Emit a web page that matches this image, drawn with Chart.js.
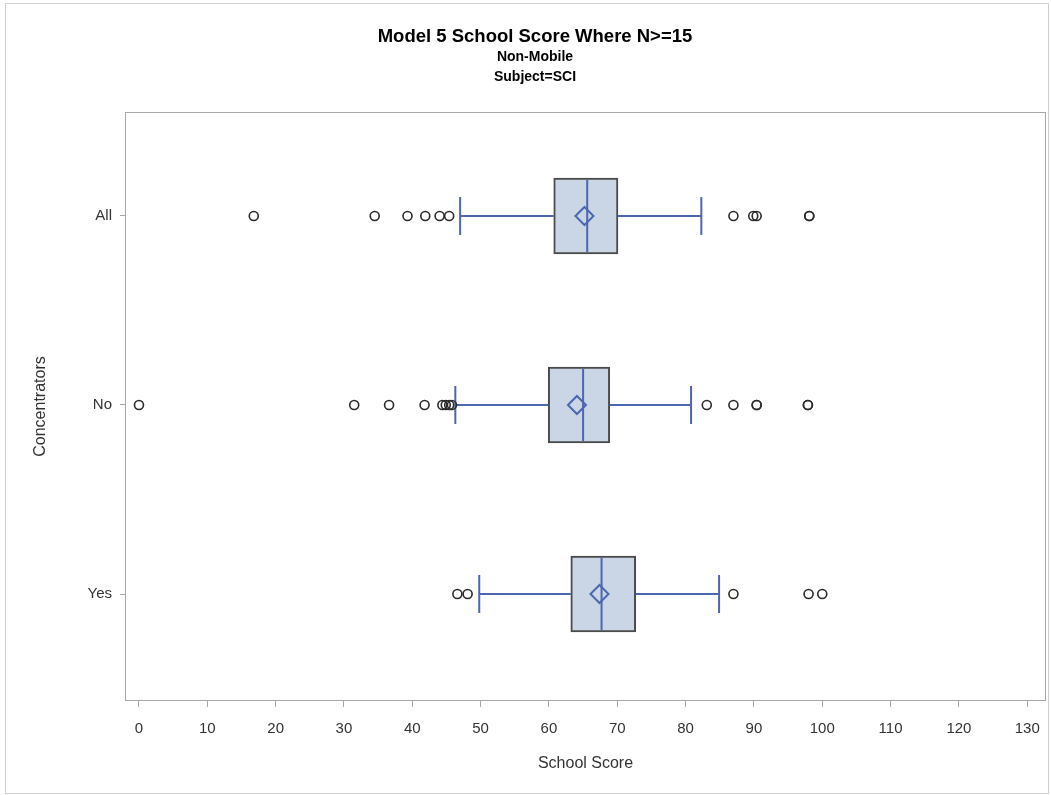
<!DOCTYPE html>
<html>
<head>
<meta charset="utf-8">
<script src="https://cdn.jsdelivr.net/npm/chart.js@4.4.1/dist/chart.umd.min.js"></script>
<style>
  html, body { margin: 0; padding: 0; background: #fff; overflow: hidden; }
  #frame { position: absolute; left: 5px; top: 3px; width: 1042px; height: 789px; border: 1px solid #cfcfcf; }
  #wrap { position: absolute; left: 25px; top: 4px; width: 1024px; height: 789px; }
</style>
</head>
<body>
<div id="frame"></div>
<div id="wrap"><canvas id="chart"></canvas></div>
<script>
// box plot summary per group
const categories = ['All', 'No', 'Yes'];
const whiskerLow = [47.0, 46.3, 49.8];
const q1 = [60.7, 59.9, 63.2];
const median = [65.6, 65.0, 67.7];
const mean = [65.2, 64.1, 67.4];
const q3 = [70.1, 68.9, 72.7];
const whiskerHigh = [82.3, 80.8, 84.9];

const outliersAll = [16.8, 34.5, 39.3, 41.9, 44.0, 45.4, 87.0, 89.9, 90.4, 98.1, 98.1];
const outliersNo = [0, 31.5, 36.6, 41.8, 44.4, 44.9, 45.4, 45.8, 83.1, 87.0, 90.4, 90.4, 97.9, 97.9];
const outliersYes = [46.6, 48.1, 87.0, 98.0, 100.0];

const xTicks = [0, 10, 20, 30, 40, 50, 60, 70, 80, 90, 100, 110, 120, 130];

const blue = '#4a67b0';
const font = "'Liberation Sans', Arial, sans-serif";

const outlierPoints = [];
[outliersAll, outliersNo, outliersYes].forEach((list, i) => {
    list.forEach(v => outlierPoints.push({ x: v, y: i }));
});

const boxParts = {
    id: 'boxParts',
    afterDatasetDraw(chart, args) {
        if (args.meta.type !== 'bar') return;
        const ctx = chart.ctx;
        const xs = chart.scales.x, ys = chart.scales.y;
        const cap = 19;
        ctx.save();
        ctx.strokeStyle = blue;
        ctx.lineWidth = 2;
        categories.forEach((c, i) => {
            const py = ys.getPixelForValue(i);
            const lo = xs.getPixelForValue(whiskerLow[i]);
            const hi = xs.getPixelForValue(whiskerHigh[i]);
            const a = xs.getPixelForValue(q1[i]);
            const b = xs.getPixelForValue(q3[i]);
            const m = xs.getPixelForValue(median[i]);
            const half = args.meta.data[i].height / 2 - 2;
            ctx.beginPath();
            ctx.moveTo(lo, py); ctx.lineTo(a, py);
            ctx.moveTo(b, py); ctx.lineTo(hi, py);
            ctx.moveTo(lo, py - cap); ctx.lineTo(lo, py + cap);
            ctx.moveTo(hi, py - cap); ctx.lineTo(hi, py + cap);
            ctx.moveTo(m, py - half); ctx.lineTo(m, py + half);
            ctx.stroke();
        });
        ctx.restore();
    }
};

const plotFrame = {
    id: 'plotFrame',
    beforeDatasetsDraw(chart) {
        const { ctx, chartArea: a } = chart;
        ctx.save();
        ctx.strokeStyle = '#a8a8a8';
        ctx.lineWidth = 1;
        ctx.strokeRect(Math.round(a.left) - 0.5, Math.round(a.top) + 0.5,
            Math.round(a.right - a.left) + 1, Math.round(a.bottom - a.top) - 1);
        ctx.restore();
    }
};

new Chart(document.getElementById('chart'), {
    type: 'bar',
    data: {
        datasets: [{
            type: 'scatter',
            data: categories.map((c, i) => ({ x: mean[i], y: i })),
            pointStyle: 'rectRot',
            radius: 9,
            borderColor: blue,
            borderWidth: 2,
            backgroundColor: 'rgba(0,0,0,0)'
        }, {
            type: 'scatter',
            data: outlierPoints,
            pointStyle: 'circle',
            radius: 4.5,
            borderColor: '#2a2a2a',
            borderWidth: 1.6,
            backgroundColor: 'rgba(0,0,0,0)'
        }, {
            type: 'bar',
            indexAxis: 'y',
            data: categories.map((c, i) => ({ y: i, x: [q1[i], q3[i]] })),
            barThickness: 76,
            backgroundColor: '#cad5e5',
            borderColor: '#4a4a4a',
            borderWidth: 2,
            borderSkipped: false
        }]
    },
    options: {
        responsive: true,
        maintainAspectRatio: false,
        animation: false,
        layout: { autoPadding: false, padding: { left: 0, right: 4, top: 0, bottom: 0 } },
        scales: {
            x: {
                type: 'linear',
                offset: false,
                min: -1.9,
                max: 132.6,
                afterBuildTicks: axis => { axis.ticks = xTicks.map(v => ({ value: v })); },
                afterFit: axis => {
                    axis.height = 92;
                    axis.paddingLeft = 0;
                    axis.paddingRight = 0;
                },
                grid: { offset: false, drawOnChartArea: false, tickLength: 6, color: '#a8a8a8' },
                border: { display: false },
                ticks: { padding: 13, color: '#333', font: { family: font, size: 15 } },
                title: {
                    display: true, text: 'School Score', color: '#333',
                    font: { family: font, size: 16 }, padding: { top: 0, bottom: 20 }
                }
            },
            y: {
                type: 'linear',
                offset: false,
                reverse: true,
                min: -0.55,
                max: 2.566,
                afterBuildTicks: axis => { axis.ticks = categories.map((c, i) => ({ value: i })); },
                afterFit: axis => { axis.width = 101; },
                grid: { offset: false, drawOnChartArea: false, tickLength: 6, color: '#a8a8a8' },
                border: { display: false },
                ticks: {
                    padding: 8, color: '#333', font: { family: font, size: 15 },
                    callback: v => categories[v]
                },
                title: {
                    display: true, text: 'Concentrators', color: '#333',
                    font: { family: font, size: 16 }, padding: { top: 6, bottom: 0 }
                }
            }
        },
        plugins: {
            legend: { display: false },
            tooltip: { enabled: false },
            title: {
                display: true,
                text: 'Model 5 School Score Where N>=15',
                color: '#000',
                font: { family: font, size: 18.5, weight: 'bold', lineHeight: '20px' },
                padding: { top: 23, bottom: 0 }
            },
            subtitle: {
                display: true,
                text: ['Non-Mobile', 'Subject=SCI'],
                color: '#000',
                font: { family: font, size: 14, weight: 'bold', lineHeight: '20px' },
                padding: { top: 0, bottom: 25 }
            }
        }
    },
    plugins: [boxParts, plotFrame]
});
</script>
</body>
</html>
